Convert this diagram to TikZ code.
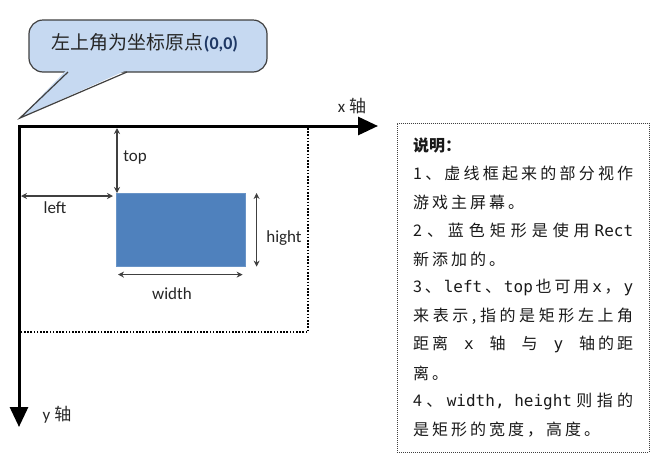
\documentclass[tikz,border=0pt]{standalone}
\usepackage{fontspec}
\setmainfont{Carlito}
\newfontfamily\cjk{Noto Sans CJK SC}
\newfontfamily\mono{DejaVu Sans Mono}
\usetikzlibrary{arrows.meta}
\definecolor{calloutfill}{HTML}{C6D9F1}
\definecolor{calloutline}{HTML}{404040}
\definecolor{rectblue}{HTML}{4F81BD}
\definecolor{dimgray}{HTML}{404040}
\definecolor{navyblue}{HTML}{1F3864}
\def\stopmark{\stopspread}
\def\firsttok#1{{#1}\spreadaux}
\def\spreadaux#1{\def\sptmp{#1}\ifx\sptmp\stopmark\else\spgap{#1}\expandafter\spreadaux\fi}
\newcommand\jline[1]{\def\spgap{\hfil}\hbox to 220pt{\firsttok#1\stopspread}}
\newcommand\nline[1]{\def\spgap{\hskip 3pt}\hbox{\firsttok#1\stopspread}}
\begin{document}
\begin{tikzpicture}[x=1pt,y=-1pt,
  axis/.style={line width=3pt, line join=miter, {Triangle[length=20pt,width=18pt]}-{Triangle[length=20pt,width=18pt]}},
  dim/.style={draw=dimgray, line width=1.4pt, {Stealth[length=6pt,width=6pt]}-{Stealth[length=6pt,width=6pt]}},
  screenline/.style={line width=1.8pt, dash pattern=on 1.6pt off 1.6pt},
  lbl/.style={font=\fontsize{17}{20}\selectfont, text=black!85, inner sep=0pt},
  calloutbox/.style={draw=calloutline, fill=calloutfill, line width=1.2pt, rounded corners=14pt, minimum width=238pt, minimum height=52pt, inner sep=0pt},
  notebox/.style={draw=black!75, dash pattern=on 1pt off 1pt, line width=0.9pt, minimum width=252pt, minimum height=329pt, anchor=north west, inner sep=0pt},
  noteline/.style={anchor=west, inner sep=0pt, font=\cjk\fontsize{16}{18}\selectfont, text=black!90},
  bluerect/.style={fill=rectblue, draw=rectblue!85!white, line width=0.6pt, minimum width=129pt, minimum height=73pt, anchor=north west, inner sep=0pt},
]
\useasboundingbox (0,0) rectangle (664,464);

% callout
\node[calloutbox] (callout) at (148,46) {};
\fill[calloutfill] (67,69.5) -- (20,118) -- (128,69.5) -- cycle;
\draw[calloutline, line width=1.2pt, line join=miter] (68,72) -- (20,118) -- (127,72);
\node[inner sep=0pt, text=black!85] (callouttext) at (145,43) {{\cjk\fontsize{19}{22}\selectfont 左上角为坐标原点}{\fontsize{18}{22}\selectfont\bfseries\color{navyblue}(0,0)}};

% screen
\coordinate (O) at (19,126);
\coordinate (xE) at (378,126);
\coordinate (yE) at (19,427);
\coordinate (scrTR) at (308,128);
\coordinate (scrBR) at (308,332);
\coordinate (scrBL) at (20,332);
\draw[screenline] (scrTR) -- (scrBR) -- (scrBL);

% blue rectangle
\node[bluerect] (rect) at (116,193) {};

% axes
\draw[axis] (xE) -- (O) -- (yE);
\node[lbl] (xlbl) at (352,106) {x\hspace{4pt}{\cjk 轴}};
\node[lbl] (ylbl) at (57,415) {y\hspace{4pt}{\cjk 轴}};

% dimensions
\coordinate (topA) at (117,128);
\coordinate (leftA) at (21,196);
\draw[dim] (topA) -- (topA |- rect.north);
\draw[dim] (leftA) -- ([xshift=-3pt]leftA -| rect.west);
\draw[dim] ([xshift=11pt]rect.north east) -- ([xshift=11pt]rect.south east);
\draw[dim] ([xshift=2pt,yshift=-8pt]rect.south west) -- ([xshift=-3pt,yshift=-8pt]rect.south east);
\node[lbl] (toplbl) at (135,157) {top};
\node[lbl] (leftlbl) at (55,208) {left};
\node[lbl] (hightlbl) at (284,238) {hight};
\node[lbl] (widthlbl) at (172,294) {width};

% note
\node[notebox] (note) at (397,123) {};
\node[noteline] (n0) at (413,145) {\bfseries 说明：};
\node[noteline] (n1) at (413,173.5) {\jline{1、虚线框起来的部分视作}};
\node[noteline] (n2) at (413,202) {\nline{游戏主屏幕。}};
\node[noteline] (n3) at (413,230.5) {\jline{2、蓝色矩形是使用{\mono Rect}}};
\node[noteline] (n4) at (413,259) {\nline{新添加的。}};
\node[noteline] (n5) at (413,287.5) {\jline{3、{\mono left}、{\mono top}也可用{\mono x}，{\mono y}}};
\node[noteline] (n6) at (413,316) {\jline{来表示,指的是矩形左上角}};
\node[noteline] (n7) at (413,344.5) {\jline{{距\kern3pt 离}{\mono x}轴与{\mono y}{轴\kern3pt 的\kern3pt 距}}};
\node[noteline] (n8) at (413,373) {\nline{离。}};
\node[noteline] (n9) at (413,401.5) {\jline{4、{\mono width, height}则指的}};
\node[noteline] (n10) at (413,430) {\nline{是矩形的宽度，高度。}};
\end{tikzpicture}
\end{document}
